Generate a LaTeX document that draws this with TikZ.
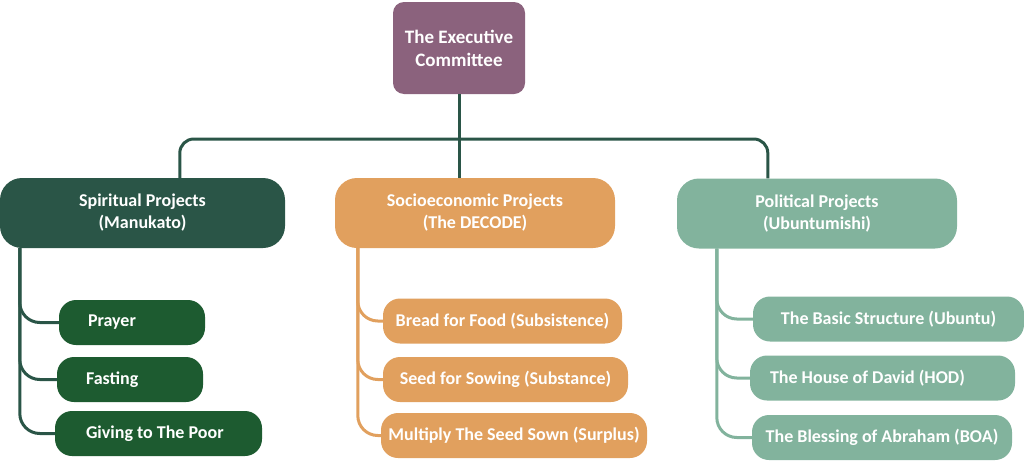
\documentclass[tikz,border=0pt]{standalone}
\usepackage{fontspec}
\setmainfont{Carlito}

\definecolor{execmauve}{HTML}{8B627D}
\definecolor{spiritgreen}{HTML}{2A5547}
\definecolor{leafgreen}{HTML}{1D5B30}
\definecolor{socioorange}{HTML}{E1A05E}
\definecolor{politsage}{HTML}{82B39D}

\tikzset{
  head/.style={rounded corners=22pt, text=white, align=center,
    font=\bfseries\fontsize{18}{22}\selectfont,
    minimum width=280pt, minimum height=70pt},
  item/.style={rounded corners=17pt, text=white,
    font=\bfseries\fontsize{18}{20}\selectfont, minimum height=45pt},
  trunk/.style={line width=3pt, draw=spiritgreen},
  branch/.style={line width=3pt, rounded corners=20pt},
}

\begin{document}
\begin{tikzpicture}[x=1pt, y=-1pt]
\useasboundingbox (0,0) rectangle (1024,461);
% The committee at the top
\node[fill=execmauve, rounded corners=11pt, text=white, align=center,
  font=\bfseries\fontsize{19}{23}\selectfont,
  minimum width=132pt, minimum height=92pt] (exec) at (459,48)
  {The Executive\\Committee};
% The three project groups
\node[head, fill=spiritgreen, minimum width=285pt] (spirit) at (142.5,213) {Spiritual Projects\\(Manukato)};
\node[head, fill=socioorange] (socio) at (475,213) {Socioeconomic Projects\\(The DECODE)};
\node[head, fill=politsage] (polit) at (817,213.5) {Political Projects\\(Ubuntumishi)};
% Spiritual items, text set to the left
\node[item, fill=leafgreen, inner xsep=29pt, text width=88pt, align=flush left] (prayer) at (132,322.5) {Prayer};
\node[item, fill=leafgreen, inner xsep=29pt, text width=88pt, align=flush left] (fasting) at (130,379.5) {Fasting};
\node[item, fill=leafgreen, inner xsep=31pt, text width=145pt, align=flush left] (giving) at (158.5,433.5) {Giving to The Poor};
% Socioeconomic items
\node[item, fill=socioorange, minimum width=239pt] (bread) at (502.5,321) {Bread for Food (Subsistence)};
\node[item, fill=socioorange, minimum width=245pt] (seed) at (505.5,379.5) {Seed for Sowing (Substance)};
\node[item, fill=socioorange, minimum width=266pt] (multiply) at (514,435.5) {Multiply The Seed Sown (Surplus)};
% Political items
\node[item, fill=politsage, minimum width=271pt] (basic) at (888.5,319) {The Basic Structure (Ubuntu)};
\node[item, fill=politsage, inner xsep=20pt, text width=225pt, align=flush left] (house) at (882.5,378) {The House of David (HOD)};
\node[item, fill=politsage, minimum width=260pt] (blessing) at (882,437.5) {The Blessing of Abraham (BOA)};
% Trunk lines from the committee
\coordinate (bar) at (459,139);
\draw[trunk] (exec.south) -- (exec.south |- socio.north);
\draw[trunk, rounded corners=14pt] ([xshift=180pt]spirit.north west) |- (bar) -| ([xshift=91pt]polit.north west);
% Branches down to the items
\foreach \n in {prayer,fasting,giving}
  \draw[branch, spiritgreen] ([xshift=20pt]spirit.south west) |- (\n.west);
\foreach \n in {bread,seed,multiply}
  \draw[branch, socioorange] ([xshift=23pt]socio.south west) |- (\n.west);
\foreach \n in {basic,house,blessing}
  \draw[branch, politsage] ([xshift=40pt]polit.south west) |- (\n.west);
\end{tikzpicture}
\end{document}
